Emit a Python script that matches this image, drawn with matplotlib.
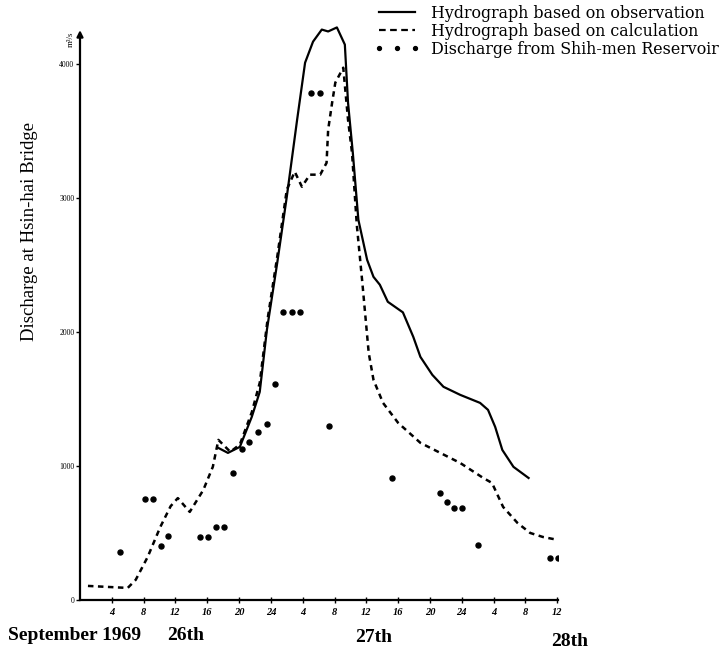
import matplotlib
matplotlib.use("Agg")
import matplotlib.pyplot as plt
from matplotlib.lines import Line2D

plt.rcParams['font.family'] = ['Liberation Serif', 'DejaVu Serif']

# Hours counted from 0:00 on 26 September 1969; discharge in m3/s
obs_hours = [17.4, 18.6, 20.1, 21.6, 22.6, 23.5, 24.8, 26.0, 27.3, 28.3, 29.3, 30.4,
             31.2, 32.3, 33.3, 33.7, 34.3, 35.0, 36.1, 36.9, 37.7, 38.7, 40.6, 41.9,
             42.8, 44.3, 45.7, 47.8, 50.3, 51.3, 52.2, 53.1, 54.5, 56.4]
obs_flow = [1134, 1097, 1142, 1366, 1552, 2015, 2515, 3007, 3582, 4007, 4164, 4254,
            4240, 4270, 4142, 3709, 3336, 2836, 2537, 2410, 2351, 2224, 2145, 1963,
            1813, 1679, 1590, 1530, 1470, 1418, 1291, 1119, 993, 910]

calc_hours = [1.0, 6.0, 7.0, 8.5, 10.1, 11.4, 12.3, 13.8, 15.5, 16.7, 17.4, 18.9,
              20.1, 21.6, 22.6, 23.6, 24.8, 26.0, 27.0, 27.9, 28.9, 30.2, 31.0,
              31.2, 31.7, 32.1, 33.1, 33.7, 34.2, 34.8, 35.5, 36.3, 36.9, 38.1,
              40.0, 42.8, 45.3, 47.8, 50.7, 51.8, 53.2, 55.0, 56.6, 58.2, 60.1]
calc_flow = [105, 90, 150, 320, 545, 700, 760, 657, 820, 993, 1194, 1105,
             1160, 1400, 1620, 2100, 2560, 3060, 3194, 3082, 3172, 3172, 3260,
             3507, 3709, 3858, 3970, 3582, 3336, 2799, 2366, 1843, 1642, 1470,
             1321, 1172, 1097, 1022, 910, 873, 694, 575, 500, 470, 448]

res_hours = [5.0, 8.2, 9.2, 10.2, 11.1, 15.1, 16.1, 17.1, 18.1, 19.2, 20.4, 21.3,
             22.4, 23.5, 24.5, 25.5, 26.6, 27.7, 29.0, 30.2, 31.3, 39.2, 45.3,
             46.1, 47.0, 48.0, 50.0, 59.1, 60.1]
res_flow = [358, 754, 754, 403, 478, 470, 470, 545, 545, 948, 1127, 1179,
            1254, 1313, 1612, 2149, 2149, 2149, 3784, 3784, 1299, 910, 799,
            731, 687, 687, 410, 313, 313]

tick_hours = [4, 8, 12, 16, 20, 24, 28, 32, 36, 40, 44, 48, 52, 56, 60]
tick_labels = ['4', '8', '12', '16', '20', '24', '4', '8', '12', '16', '20', '24',
               '4', '8', '12']
y_ticks = [0, 1000, 2000, 3000, 4000]

W, H = 722, 652
fig = plt.figure(figsize=(W / 100, H / 100), dpi=100)
ax = fig.add_axes([80 / W, 52 / H, 478 / W, 590 / H])
ax.set_xlim(0, 60.1)
ax.set_ylim(0, 4400)

for s in ax.spines.values():
    s.set_visible(False)

# axes drawn by hand: arrowed vertical axis and plain time axis
ax.annotate('', xy=(0, 4250), xytext=(0, 0),
            arrowprops=dict(arrowstyle='-|>', lw=1.6, color='black',
                            mutation_scale=9, shrinkA=0, shrinkB=0),
            annotation_clip=False)
ax.plot([0, 60.1], [0, 0], color='black', lw=1.6, clip_on=False)

ax.plot(obs_hours, obs_flow, color='black', lw=1.6, ls='-')
ax.plot(calc_hours, calc_flow, color='black', lw=1.8, ls=(0, (2.2, 1.8)))
ax.plot(res_hours, res_flow, color='black', ls='none', marker='o', ms=3.6)

ax.set_xticks(tick_hours)
ax.set_xticklabels(tick_labels, fontsize=7.5, style='italic', fontweight='bold')
ax.set_yticks(y_ticks)
ax.set_yticklabels([str(v) for v in y_ticks], fontsize=5.5)
ax.tick_params(axis='x', direction='inout', length=5, width=1, pad=3)
ax.tick_params(axis='y', direction='out', length=3, width=1, pad=1)

ax.text(-0.7, 4180, 'm³/s', rotation=90, fontsize=6.5, ha='right', va='center')

fig.text(30 / W, 1 - 232 / H, 'Discharge at Hsin-hai Bridge', rotation=90,
         fontsize=13.5, ha='center', va='center')
fig.text(8 / W, 1 - 636 / H, 'September 1969', fontsize=14, fontweight='bold',
         ha='left', va='center')
fig.text(186 / W, 1 - 636 / H, '26th', fontsize=14, fontweight='bold',
         ha='center', va='center')
fig.text(374 / W, 1 - 637 / H, '27th', fontsize=14, fontweight='bold',
         ha='center', va='center')
fig.text(570 / W, 1 - 641 / H, '28th', fontsize=14, fontweight='bold',
         ha='center', va='center')

handles = [Line2D([], [], color='black', lw=1.6),
           Line2D([], [], color='black', lw=1.6, ls=(0, (3, 2))),
           Line2D([], [], color='black', ls='none', marker='o', ms=2.8)]
labels = ['Hydrograph based on observation', 'Hydrograph based on calculation',
          'Discharge from Shih-men Reservoir']
ax.legend(handles, labels, loc='upper left', bbox_to_anchor=(374 / W, 1 - 5 / H),
          bbox_transform=fig.transFigure, frameon=False,
          prop={'family': 'DejaVu Serif', 'size': 11.4},
          handlelength=2.9, handletextpad=0.7, labelspacing=0.05,
          borderaxespad=0, borderpad=0, numpoints=3)

fig.savefig('out.png', dpi=100)
